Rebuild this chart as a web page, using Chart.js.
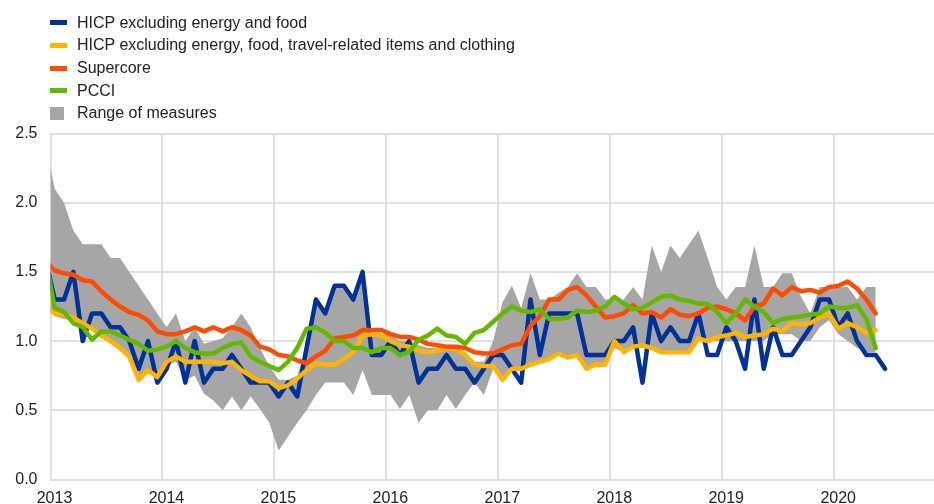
<!DOCTYPE html>
<html>
<head>
<meta charset="utf-8">
<script src="https://cdn.jsdelivr.net/npm/chart.js@4.4.1/dist/chart.umd.min.js"></script>
<style>
  html, body { margin: 0; padding: 0; background: #fff; }
  #wrap { position: relative; width: 934px; height: 504px; }
  #legend { position: absolute; left: 50px; top: 11.6px; font: 16px "Liberation Sans", Arial, sans-serif; color: #222; }
  .item { height: 22.6px; display: flex; align-items: center; white-space: nowrap; }
  .mark { width: 17px; height: 5px; margin-right: 10px; }
  .mark.box { width: 14px; height: 13px; margin-right: 13px; }
</style>
</head>
<body>
<div id="wrap">
  <canvas id="myChart" width="934" height="504"></canvas>
  <div id="legend"></div>
</div>
<script>
// tick labels (one per January)
const years = ['2013', '2014', '2015', '2016', '2017', '2018', '2019', '2020'];
// first value of every series is Dec 2012 (month -1, Jan 2013 = 0)
const startMonth = -1;

// HICP excluding energy and food (Dec 2012 - Jun 2020)
const hicpx = [1.6,
  1.3, 1.3, 1.5, 1.0, 1.2, 1.2, 1.1, 1.1, 1.0, 0.8, 1.0, 0.7,
  0.8, 1.0, 0.7, 1.0, 0.7, 0.8, 0.8, 0.9, 0.8, 0.7, 0.7, 0.7,
  0.6, 0.7, 0.6, 0.95, 1.3, 1.2, 1.4, 1.4, 1.3, 1.5, 0.9, 0.9,
  1.0, 0.9, 1.0, 0.7, 0.8, 0.8, 0.9, 0.8, 0.8, 0.7, 0.8, 0.9,
  0.9, 0.8, 0.7, 1.3, 0.9, 1.2, 1.2, 1.2, 1.2, 0.9, 0.9, 0.9,
  1.0, 1.0, 1.1, 0.7, 1.2, 1.0, 1.1, 1.0, 1.0, 1.2, 0.9, 0.9,
  1.1, 1.0, 0.8, 1.3, 0.8, 1.1, 0.9, 0.9, 1.0, 1.1, 1.3, 1.3,
  1.1, 1.2, 1.0, 0.9, 0.9, 0.8];

// HICP excluding energy, food, travel-related items and clothing (Dec 2012 - May 2020)
const hicpxTravel = [1.24,
  1.20, 1.19, 1.17, 1.13, 1.09, 1.04, 1.00, 0.95, 0.89, 0.72, 0.79, 0.74,
  0.85, 0.89, 0.85, 0.85, 0.85, 0.85, 0.84, 0.85, 0.79, 0.75, 0.71, 0.71,
  0.66, 0.68, 0.73, 0.79, 0.84, 0.83, 0.83, 0.87, 0.92, 1.04, 1.05, 1.04,
  1.00, 0.97, 0.96, 0.93, 0.92, 0.93, 0.95, 0.94, 0.90, 0.83, 0.82, 0.82,
  0.72, 0.80, 0.80, 0.83, 0.85, 0.87, 0.91, 0.88, 0.90, 0.80, 0.83, 0.83,
  1.00, 0.92, 0.96, 0.97, 0.95, 0.92, 0.92, 0.92, 0.92, 1.02, 1.00, 1.03,
  1.04, 1.06, 1.03, 1.04, 1.05, 1.09, 1.07, 1.13, 1.12, 1.13, 1.17, 1.20,
  1.09, 1.13, 1.10, 1.06, 1.08];

// Supercore
const supercore = [1.58,
  1.51, 1.49, 1.48, 1.44, 1.43, 1.36, 1.30, 1.25, 1.21, 1.19, 1.15, 1.07,
  1.05, 1.05, 1.07, 1.10, 1.07, 1.10, 1.07, 1.10, 1.08, 1.04, 0.96, 0.94,
  0.90, 0.89, 0.86, 0.84, 0.89, 0.93, 1.02, 1.03, 1.04, 1.08, 1.08, 1.08,
  1.05, 1.03, 1.03, 1.01, 0.98, 0.97, 0.96, 0.96, 0.95, 0.92, 0.91, 0.91,
  0.94, 0.97, 0.98, 1.11, 1.18, 1.30, 1.30, 1.37, 1.39, 1.33, 1.25, 1.17,
  1.18, 1.20, 1.26, 1.20, 1.21, 1.17, 1.23, 1.19, 1.18, 1.20, 1.24, 1.25,
  1.23, 1.20, 1.15, 1.25, 1.27, 1.38, 1.33, 1.39, 1.36, 1.37, 1.35, 1.39,
  1.40, 1.43, 1.38, 1.30, 1.20];

// PCCI
const pcci = [1.6,
  1.24, 1.21, 1.13, 1.10, 1.01, 1.07, 1.07, 1.04, 1.01, 0.98, 0.93, 0.94,
  0.96, 1.00, 0.95, 0.92, 0.91, 0.91, 0.95, 0.98, 0.99, 0.89, 0.85, 0.82,
  0.79, 0.85, 0.95, 1.09, 1.10, 1.06, 1.00, 1.00, 0.95, 0.95, 0.92, 0.95,
  0.95, 0.90, 0.92, 1.01, 1.04, 1.09, 1.04, 1.03, 0.98, 1.06, 1.08, 1.14,
  1.20, 1.25, 1.22, 1.21, 1.23, 1.16, 1.16, 1.17, 1.22, 1.21, 1.22, 1.25,
  1.32, 1.27, 1.23, 1.24, 1.28, 1.32, 1.33, 1.30, 1.29, 1.27, 1.27, 1.21,
  1.13, 1.20, 1.30, 1.25, 1.21, 1.13, 1.16, 1.17, 1.18, 1.19, 1.20, 1.25,
  1.24, 1.24, 1.26, 1.16, 0.95];

// Range of measures: upper and lower bound
const rangeHigh = [2.45,
  2.10, 2.00, 1.80, 1.70, 1.70, 1.70, 1.60, 1.60, 1.50, 1.40, 1.30, 1.20,
  1.10, 1.20, 1.00, 1.10, 0.98, 1.00, 1.02, 1.10, 1.20, 1.10, 0.95, 0.82,
  0.72, 0.72, 0.75, 0.95, 1.30, 1.20, 1.40, 1.40, 1.30, 1.50, 1.05, 1.05,
  1.05, 1.00, 1.00, 0.97, 0.95, 0.95, 0.97, 0.96, 0.92, 0.85, 0.85, 1.00,
  1.28, 1.40, 1.24, 1.49, 1.30, 1.30, 1.35, 1.39, 1.49, 1.39, 1.39, 1.30,
  1.30, 1.30, 1.39, 1.30, 1.69, 1.50, 1.69, 1.60, 1.70, 1.80, 1.60, 1.39,
  1.30, 1.39, 1.39, 1.69, 1.39, 1.39, 1.49, 1.49, 1.32, 1.20, 1.39, 1.39,
  1.39, 1.39, 1.30, 1.39, 1.39];
const rangeLow = [1.25,
  1.18, 1.16, 1.15, 1.12, 1.08, 1.03, 0.98, 0.93, 0.87, 0.72, 0.78, 0.72,
  0.83, 0.85, 0.72, 0.75, 0.62, 0.57, 0.50, 0.60, 0.50, 0.60, 0.51, 0.41,
  0.21, 0.31, 0.41, 0.50, 0.61, 0.70, 0.70, 0.70, 0.61, 0.79, 0.61, 0.61,
  0.61, 0.51, 0.61, 0.41, 0.50, 0.50, 0.61, 0.51, 0.61, 0.70, 0.61, 0.80,
  0.72, 0.80, 0.80, 0.83, 0.85, 0.87, 0.90, 0.88, 0.90, 0.80, 0.83, 0.83,
  0.95, 0.92, 0.95, 0.95, 0.95, 0.92, 0.92, 0.92, 0.92, 1.00, 1.00, 1.00,
  1.00, 1.00, 1.00, 1.00, 1.00, 1.05, 1.05, 1.05, 1.00, 1.00, 1.10, 1.15,
  1.05, 1.00, 0.95, 0.92, 0.92];

const toPoints = (values) => values.map((v, k) => ({ x: startMonth + k, y: v }));

const fontName = '"Liberation Sans", Arial, sans-serif';
const gridColor = '#e0e0e0';

const lineSet = (label, values, color, order) => ({
    label: label,
    data: toPoints(values),
    borderColor: color,
    backgroundColor: color,
    borderWidth: 4.5,
    borderJoinStyle: 'round',
    borderCapStyle: 'round',
    pointRadius: 0,
    tension: 0,
    fill: false,
    clip: 0,
    order: order
});

const datasets = [
    lineSet('HICP excluding energy and food', hicpx, '#003299', 4),
    lineSet('HICP excluding energy, food, travel-related items and clothing', hicpxTravel, '#ffb400', 3),
    lineSet('Supercore', supercore, '#ff4b00', 2),
    lineSet('PCCI', pcci, '#65b800', 1),
    {
        label: 'Range of measures',
        data: toPoints(rangeHigh),
        borderWidth: 0,
        pointRadius: 0,
        backgroundColor: '#a6a6a6',
        fill: false,
        clip: 0,
        order: 5
    },
    {
        label: 'range low',
        data: toPoints(rangeLow),
        borderWidth: 0,
        pointRadius: 0,
        backgroundColor: '#a6a6a6',
        fill: '-1',
        clip: 0,
        order: 6
    }
];

// legend as html, one entry per row
const legendEl = document.getElementById('legend');
datasets.slice(0, 5).forEach((ds, k) => {
    const row = document.createElement('div');
    row.className = 'item';
    const mark = document.createElement('span');
    mark.className = k === 4 ? 'mark box' : 'mark';
    mark.style.background = k === 4 ? ds.backgroundColor : ds.borderColor;
    const txt = document.createElement('span');
    txt.textContent = ds.label;
    row.appendChild(mark);
    row.appendChild(txt);
    legendEl.appendChild(row);
});

const ctx = document.getElementById('myChart').getContext('2d');
const chart = new Chart(ctx, {
    type: 'line',
    data: { datasets: datasets },
    options: {
        responsive: false,
        animation: false,
        devicePixelRatio: 1,
        layout: { padding: { top: 133.5, right: 0, bottom: 0, left: 0 } },
        plugins: {
            legend: { display: false },
            tooltip: { enabled: false }
        },
        scales: {
            x: {
                type: 'linear',
                min: -0.45,
                max: 94.25,
                afterBuildTicks: (scale) => {
                    scale.ticks = years.map((y, k) => ({ value: -0.45 + 12 * k }));
                },
                afterFit: (scale) => {
                    scale.height = 24.5;
                    scale.paddingLeft = 0;
                    scale.paddingRight = 0;
                },
                ticks: {
                    autoSkip: false,
                    maxRotation: 0,
                    labelOffset: 4,
                    padding: 9,
                    color: '#222',
                    font: { family: fontName, size: 16 },
                    callback: (value, index) => years[index]
                },
                grid: { color: gridColor, lineWidth: 2, drawTicks: false },
                border: { color: gridColor, width: 2 }
            },
            y: {
                min: 0,
                max: 2.5,
                afterFit: (scale) => { scale.width = 50.5; },
                ticks: {
                    stepSize: 0.5,
                    padding: 13,
                    color: '#222',
                    font: { family: fontName, size: 16 },
                    callback: (value) => value.toFixed(1)
                },
                grid: { color: gridColor, lineWidth: 2, drawTicks: false },
                border: { color: gridColor, width: 2 }
            }
        }
    }
});
</script>
</body>
</html>
